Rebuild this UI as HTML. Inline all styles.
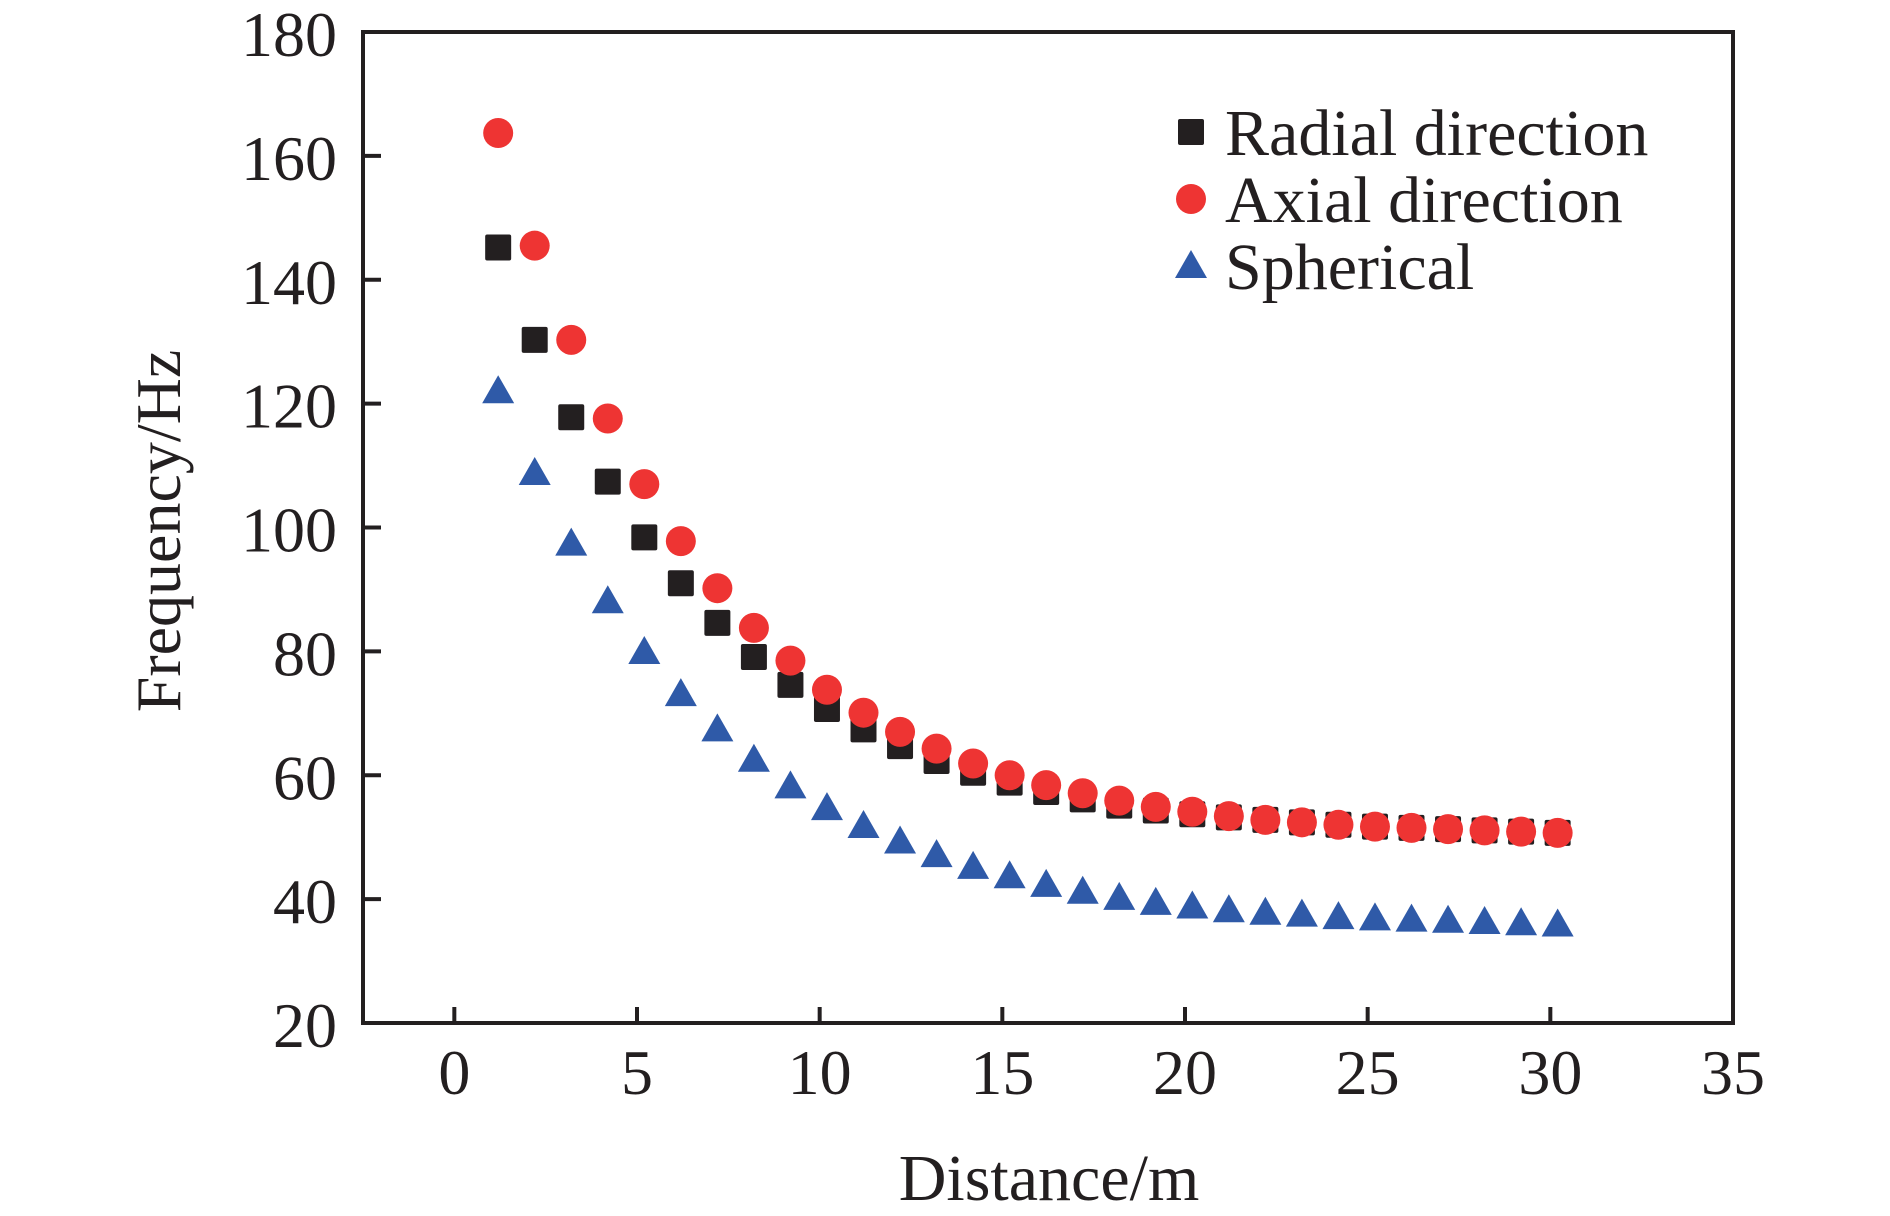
<!DOCTYPE html>
<html><head><meta charset="utf-8"><style>
html,body{margin:0;padding:0;background:#fff}
svg text{font-family:"Liberation Serif",serif;fill:#231f20}
</style></head><body>
<svg width="1890" height="1211" viewBox="0 0 1890 1211" xmlns="http://www.w3.org/2000/svg">
<g id="axes"></g><g id="marks"></g><g id="legend"></g>
</svg>
<script>
const xTicks=[0,5,10,15,20,25,30,35];
const yTicks=[20,40,60,80,100,120,140,160,180];
const distance=[1.2,2.2,3.2,4.2,5.2,6.2,7.2,8.2,9.2,10.2,11.2,12.2,13.2,14.2,15.2,16.2,17.2,18.2,19.2,20.2,21.2,22.2,23.2,24.2,25.2,26.2,27.2,28.2,29.2,30.2];
const radial=[145.2,130.3,117.8,107.4,98.4,91.0,84.6,79.1,74.6,70.7,67.4,64.7,62.3,60.4,58.8,57.3,56.1,55.1,54.3,53.7,53.2,52.8,52.4,52.0,51.7,51.5,51.3,51.1,50.9,50.7];
const axial=[163.7,145.5,130.3,117.6,107.0,97.8,90.2,83.8,78.5,73.8,70.1,67.0,64.3,61.9,60.0,58.4,57.1,55.9,54.9,54.1,53.4,52.8,52.4,52.0,51.7,51.5,51.3,51.1,50.9,50.7];
const spherical=[122.0,108.8,97.4,88.1,79.9,73.1,67.4,62.5,58.2,54.7,51.8,49.3,47.1,45.2,43.7,42.3,41.2,40.2,39.4,38.8,38.2,37.8,37.5,37.1,36.9,36.7,36.5,36.3,36.1,35.9];

const NS="http://www.w3.org/2000/svg";
const L=363,R=1733,T=32,B=1023;
const xMin=-2.5,xMax=35,yMin=20,yMax=180;
const sx=v=>L+(v-xMin)/(xMax-xMin)*(R-L);
const sy=v=>B-(v-yMin)/(yMax-yMin)*(B-T);
function mk(tag,attrs,parent,text){const e=document.createElementNS(NS,tag);for(const k in attrs)e.setAttribute(k,attrs[k]);if(text!==undefined)e.textContent=text;parent.appendChild(e);return e;}
const axes=document.getElementById('axes'),marks=document.getElementById('marks'),legend=document.getElementById('legend');

const frame=mk('rect',{x:L,y:T,width:R-L,height:B-T,fill:'none',stroke:'#231f20','stroke-width':4},axes);


xTicks.forEach(v=>{
  if(v<35){const t=mk('line',{x1:sx(v),x2:sx(v),y1:B,y2:B-16,stroke:'#231f20','stroke-width':4},axes);
  
  }
  const lb=mk('text',{x:sx(v),y:1094,'font-size':64,'text-anchor':'middle'},axes,String(v));
  
  
});
yTicks.forEach(v=>{
  if(v>20&&v<180){const t=mk('line',{x1:L,x2:L+18,y1:sy(v),y2:sy(v),stroke:'#231f20','stroke-width':4},axes);
  
  }
  const lb=mk('text',{x:337,y:sy(v)+24,'font-size':64,'text-anchor':'end'},axes,String(v));
  
  
});
const xt=mk('text',{x:1049,y:1200,'font-size':66,'text-anchor':'middle'},axes,'Distance/m');


const yt=mk('text',{x:0,y:0,'font-size':64,'text-anchor':'middle',transform:'translate(180,531) rotate(-90)'},axes,'Frequency/Hz');



function square(x,y,p,n){const e=mk('rect',{x:x-13,y:y-13,width:26,height:26,rx:2,fill:'#231f20'},p);

}
function circle(x,y,p,n){const e=mk('circle',{cx:x,cy:y,r:15,fill:'#ee3433'},p);

}
function tri(x,y,p,n){const e=mk('polygon',{points:`${x},${y-16} ${x+16},${y+12} ${x-16},${y+12}`,fill:'#2f5aa8'},p);

}

distance.forEach((d,i)=>{
  tri(sx(d),sy(spherical[i]),marks,'spherical-point');
  square(sx(d),sy(radial[i]),marks,'radial-point');
  circle(sx(d),sy(axial[i]),marks,'axial-point');
});

const leg=[['Radial direction',square,'legend-radial'],['Axial direction',circle,'legend-axial'],['Spherical',tri,'legend-spherical']];
leg.forEach((l,i)=>{
  const y=132+i*67;
  l[1](1191,y,legend,l[2]+'-marker');
  const t=mk('text',{x:1225,y:y+23,'font-size':66},legend,l[0]);
  
  
});
</script>
</body></html>
